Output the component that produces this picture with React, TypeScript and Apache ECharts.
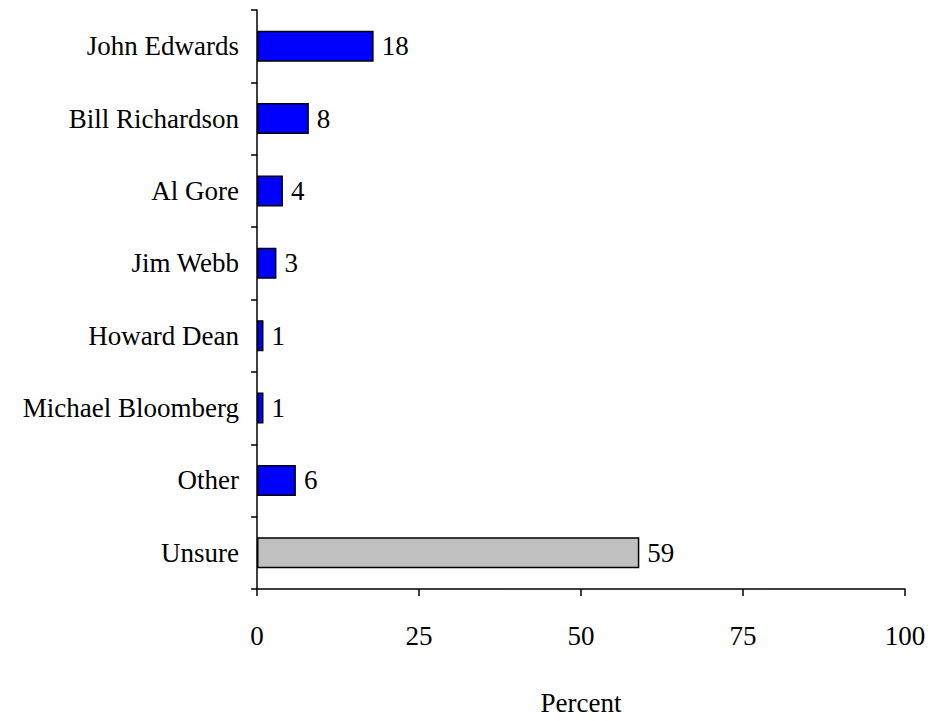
import React, { useEffect, useRef } from "react";
import * as echarts from "echarts";

const categories = [
  "John Edwards",
  "Bill Richardson",
  "Al Gore",
  "Jim Webb",
  "Howard Dean",
  "Michael Bloomberg",
  "Other",
  "Unsure",
];
const values = [18, 8, 4, 3, 1, 1, 6, 59];
const barColors = ["#0000FF", "#0000FF", "#0000FF", "#0000FF", "#0000FF", "#0000FF", "#0000FF", "#C0C0C0"];
const xTicks = { min: 0, max: 100, interval: 25 };
const axisName = "Percent";

const FONT = "'Liberation Serif', 'Times New Roman', serif";

export default function App() {
  const ref = useRef<HTMLDivElement>(null);
  useEffect(() => {
    document.body.style.margin = "0";
    const chart = echarts.init(ref.current!, null, { renderer: "svg" });
    chart.setOption({
      animation: false,
      backgroundColor: "#ffffff",
      grid: { left: 257, right: 28, top: 10, bottom: 128, containLabel: false },
      xAxis: {
        type: "value",
        min: xTicks.min,
        max: xTicks.max,
        interval: xTicks.interval,
        name: axisName,
        nameLocation: "middle",
        nameGap: 100,
        nameTextStyle: { fontFamily: FONT, fontSize: 27, color: "#000" },
        axisLine: { show: true, lineStyle: { color: "#000", width: 1.5 } },
        axisTick: { show: true, length: 7, lineStyle: { color: "#000", width: 1.5 } },
        axisLabel: { fontFamily: FONT, fontSize: 27, color: "#000", margin: 33 },
        splitLine: { show: false },
      },
      yAxis: {
        type: "category",
        data: categories,
        inverse: true,
        axisLine: { show: true, lineStyle: { color: "#000", width: 1.5 } },
        axisTick: { show: true, length: 6, lineStyle: { color: "#000", width: 1.5 } },
        axisLabel: { fontFamily: FONT, fontSize: 27, color: "#000", margin: 18 },
      },
      series: [
        {
          type: "bar",
          barWidth: 31,
          data: values.map((v, i) => ({
            value: v,
            itemStyle: { color: barColors[i], borderColor: "#000", borderWidth: 1.5 },
          })),
          label: {
            show: true,
            position: "right",
            distance: 8,
            fontFamily: FONT,
            fontSize: 27,
            color: "#000",
          },
        },
      ],
    });
    return () => chart.dispose();
  }, []);
  return <div ref={ref} style={{ width: 933, height: 721 }} />;
}
